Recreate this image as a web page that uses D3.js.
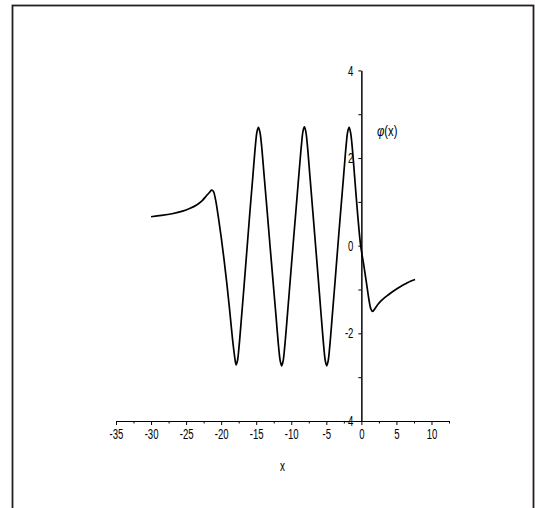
<!DOCTYPE html>
<html>
<head>
<meta charset="utf-8">
<script src="https://cdn.jsdelivr.net/npm/d3@7"></script>
<style>
  html, body { margin: 0; padding: 0; background: #fff; }
  svg { display: block; }
  .axis text { font-family: "Liberation Sans", Arial, sans-serif; font-size: 14.5px; fill: #000; }
  .axis path, .axis line { stroke: #000; stroke-width: 1; }
  .label { font-family: "Liberation Sans", Arial, sans-serif; font-size: 15px; fill: #000; }
</style>
</head>
<body>
<div id="chart"></div>
<script>
'use strict';

// curve values
const curveX = [
  -30, -28.5, -27, -25.5, -24.5, -23.5, -22.7, -22.1, -21.6, -21.35, -21.1, -20.8, -20.4, -20.0, -19.6, -19.2, -18.8, -18.4, -18.1, -17.87,
  -17.67, -17.47, -17.07, -16.67, -16.28, -15.89, -15.49, -15.09, -14.89, -14.69,
  -14.48, -14.27, -13.86, -13.44, -13.03, -12.61, -12.19, -11.78, -11.57, -11.36,
  -11.16, -10.96, -10.55, -10.15, -9.75, -9.34, -8.94, -8.53, -8.33, -8.13,
  -7.93, -7.73, -7.33, -6.93, -6.53, -6.13, -5.74, -5.34, -5.14, -4.94,
  -4.74, -4.54, -4.14, -3.74, -3.35, -2.95, -2.55, -2.15, -1.95, -1.75,
  -1.55, -1.35, -0.95, -0.55, -0.1, 0.3, 0.7, 1.1, 1.35, 1.6, 2.0, 2.4, 2.8, 3.2, 3.6, 4.1, 4.8, 5.6, 6.4, 7.0, 7.66
];
const curveY = [
  0.66, 0.69, 0.73, 0.79, 0.85, 0.93, 1.03, 1.14, 1.23, 1.27, 1.24, 1.05, 0.65, 0.2, -0.3, -0.85, -1.45, -2.1, -2.5, -2.72,
  -2.62, -2.34, -1.58, -0.79, 0, 0.79, 1.56, 2.33, 2.60, 2.70,
  2.60, 2.34, 1.58, 0.79, 0, -0.79, -1.58, -2.35, -2.63, -2.74,
  -2.63, -2.35, -1.58, -0.79, 0, 0.79, 1.57, 2.33, 2.61, 2.71,
  2.61, 2.34, 1.57, 0.79, 0, -0.79, -1.58, -2.35, -2.63, -2.74,
  -2.63, -2.35, -1.58, -0.79, 0, 0.79, 1.56, 2.33, 2.60, 2.70,
  2.59, 2.33, 1.55, 0.75, 0, -0.4, -0.82, -1.25, -1.44, -1.50, -1.42, -1.33, -1.26, -1.20, -1.15, -1.09, -1.01, -0.93, -0.86, -0.81, -0.77
];

const xTicks = [-35, -30, -25, -20, -15, -10, -5, 0, 5, 10];
const xMinorTicks = [-32.5, -27.5, -22.5, -17.5, -12.5, -7.5, -2.5, 2.5, 7.5, 12.5];
const yTicks = [-4, -2, 0, 2, 4];
const yMinorTicks = [-3, -1, 1, 3];

const width = 535, height = 508;
const squeeze = 0.66; // the original font is very narrow

let svg = d3.select('#chart').append('svg')
  .attr('width', width).attr('height', height);

// outer frame (bottom edge runs off the picture)
svg.append('rect')
  .attr('x', 12.5).attr('y', 5.5)
  .attr('width', 521).attr('height', 530)
  .style('fill', 'none').style('stroke', '#231f20').style('stroke-width', 1.8);

let x = d3.scaleLinear().domain([-35, 12.5]).range([116, 449]);
let y = d3.scaleLinear().domain([-4, 4]).range([421, 70.4]);

function fixLabels(g) {
  g.selectAll('text').each(function () {
    let t = d3.select(this);
    t.text(t.text().replace('\u2212', '-'));
    t.attr('x', (+t.attr('x') || 0) / squeeze).attr('transform', `scale(${squeeze},1)`);
  });
}

// x axis
svg.append('g').classed('axis', true)
  .attr('transform', `translate(0,${y(-4)})`)
  .call(d3.axisBottom(x).tickValues(xMinorTicks).tickSize(2.5).tickSizeOuter(0).tickFormat(() => ''));

svg.append('g').classed('axis', true)
  .attr('transform', `translate(0,${y(-4)})`)
  .call(d3.axisBottom(x).tickValues(xTicks).tickSize(4).tickSizeOuter(0).tickPadding(4).tickFormat(d3.format('d')))
  .call(fixLabels);

// y axis sits at x = 0
svg.append('g').classed('axis', true)
  .attr('transform', `translate(${x(0)},0)`)
  .call(d3.axisLeft(y).tickValues(yMinorTicks).tickSize(3).tickSizeOuter(0).tickFormat(() => ''));

svg.append('g').classed('axis', true)
  .attr('transform', `translate(${x(0)},0)`)
  .call(d3.axisLeft(y).tickValues(yTicks).tickSize(3).tickSizeOuter(0).tickPadding(5).tickFormat(d3.format('d')))
  .call(fixLabels);

// curve
let pts = curveX.map((v, i) => [v, curveY[i]]);
svg.append('path')
  .datum(pts)
  .attr('d', d3.line().x(d => x(d[0])).y(d => y(d[1])).curve(d3.curveCatmullRom.alpha(0.5)))
  .style('fill', 'none').style('stroke', '#000').style('stroke-width', 1.7);

// axis titles
svg.append('text').classed('label', true)
  .attr('x', x(-11.25) / squeeze).attr('y', 471)
  .attr('transform', `scale(${squeeze},1)`)
  .attr('text-anchor', 'middle').text('x');

let phi = svg.append('text').classed('label', true)
  .attr('x', 377 / 0.75).attr('y', 136)
  .attr('transform', 'scale(0.75,1)');
phi.append('tspan').style('font-style', 'italic').text('\u03c6');
phi.append('tspan').text('(x)');
</script>
</body>
</html>
